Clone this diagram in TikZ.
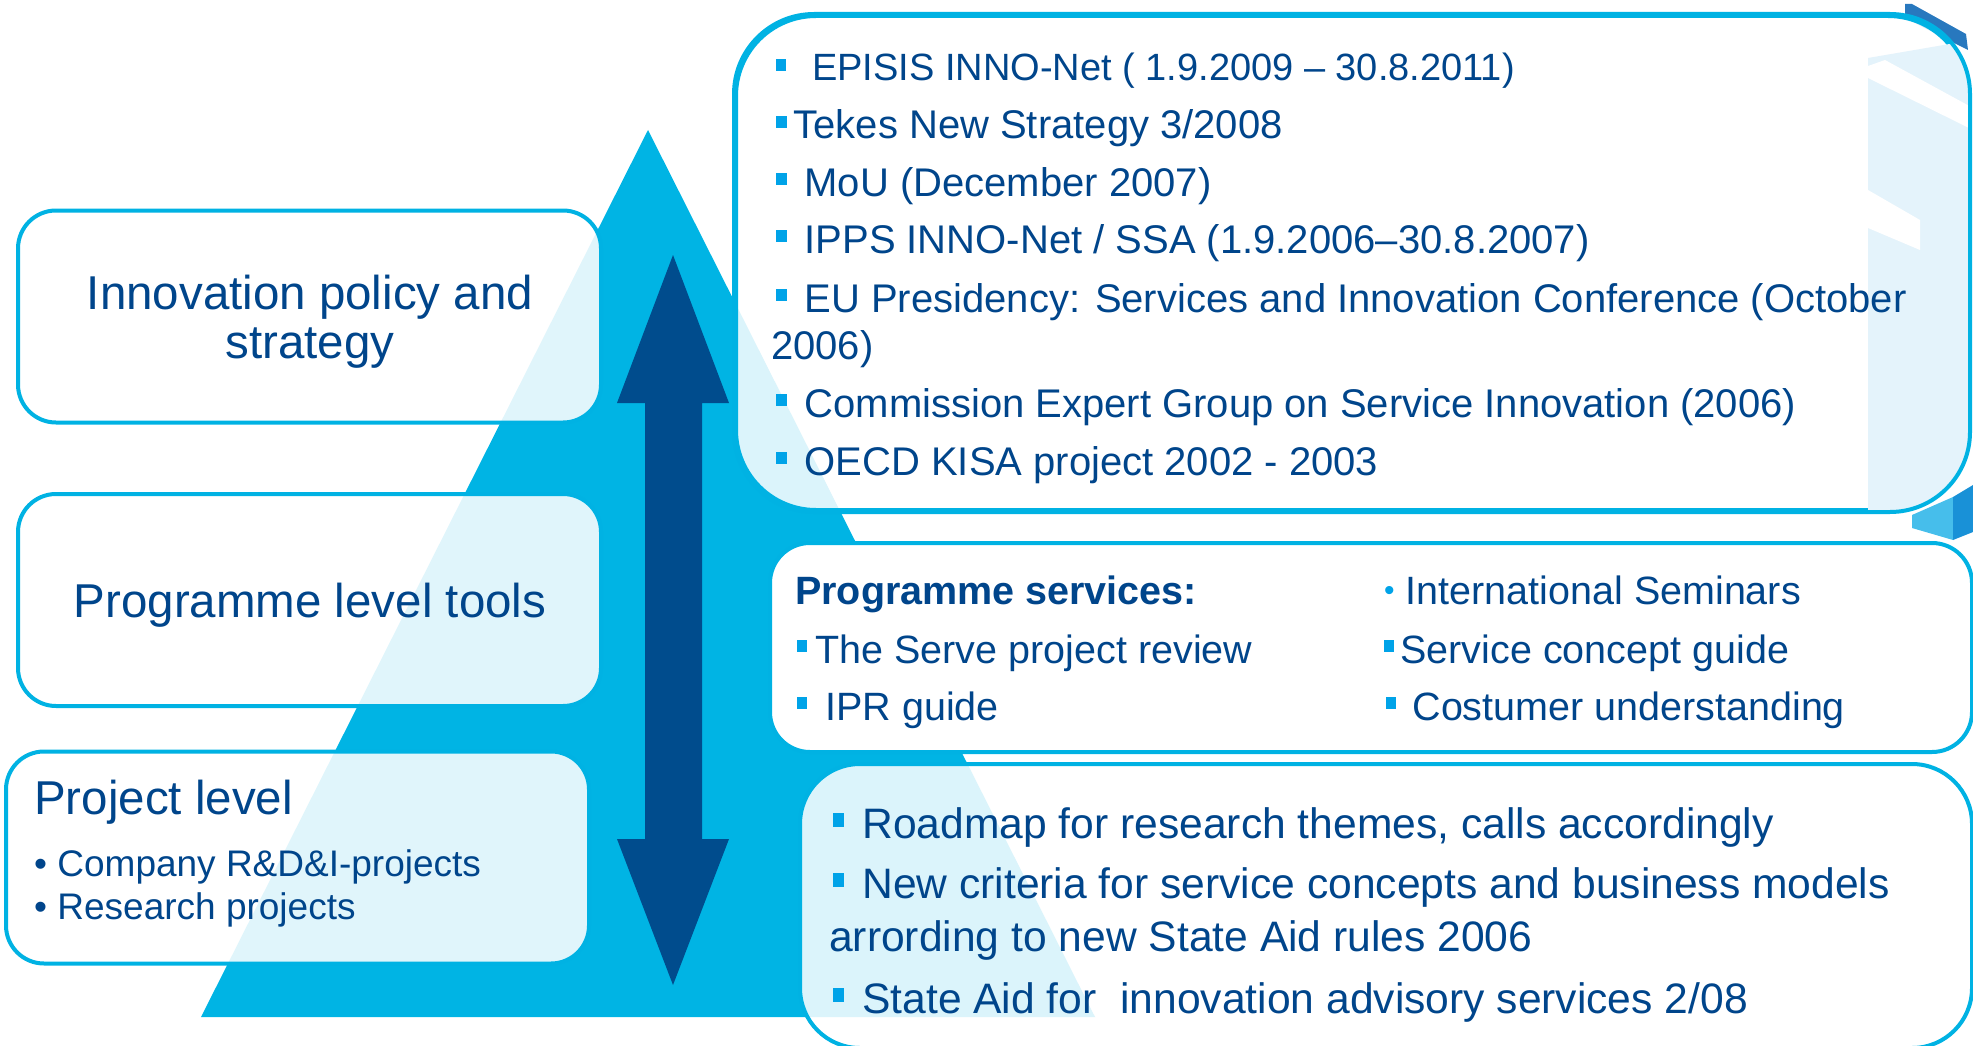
\documentclass[tikz,border=0pt]{standalone}
\usepackage{fontspec}
\setmainfont{Liberation Sans}
\definecolor{tri}{RGB}{0,180,228}
\definecolor{bord}{RGB}{0,178,227}
\definecolor{arr}{RGB}{0,76,141}
\definecolor{txt}{RGB}{0,69,139}
\definecolor{bul}{RGB}{0,163,232}
\definecolor{pale}{RGB}{228,243,251}
\definecolor{cubeA}{RGB}{70,190,235}
\definecolor{cubeB}{RGB}{25,145,215}
\definecolor{darkdeco}{RGB}{40,120,190}
\newcommand{\sqbul}{\textcolor{bul}{\rule[0.27em]{0.26em}{0.31em}}}
\begin{document}
\begin{tikzpicture}[x=1pt,y=-1pt,
  boxbase/.style={draw=bord, line width=4pt, fill=white, inner sep=0pt, rectangle},
  lbox/.style={boxbase, rounded corners=38pt, fill opacity=0.88, minimum width=583pt, minimum height=212pt},
  bigtxt/.style={text=txt, inner sep=0pt, font=\fontsize{47.5}{57}\selectfont},
  toptxt/.style={text=txt, inner sep=0pt, anchor=base west, font=\fontsize{40}{48}\selectfont},
  midtxt/.style={text=txt, inner sep=0pt, anchor=base west, font=\fontsize{39.5}{47}\selectfont},
  bottxt/.style={text=txt, inner sep=0pt, anchor=base west, font=\fontsize{42.6}{50}\selectfont},
  smalltxt/.style={text=txt, inner sep=0pt, anchor=base west, font=\fontsize{37}{44}\selectfont}
]
\useasboundingbox (0,0) rectangle (1973,1046);
% triangle
\coordinate (apex) at (648,130);
\coordinate (bl) at (201,1017);
\coordinate (br) at (1095,1017);
\fill[tri] (apex) -- (br) -- (bl) -- cycle;
% double arrow
\fill[arr] (673,255) -- (729,403) -- (702,403) -- (702,839) -- (729,839) -- (673,985)
  -- (617,839) -- (645,839) -- (645,403) -- (617,403) -- cycle;
% cube decoration (right)
\fill[cubeA] (1912,515) -- (1953,497) -- (1953,540) -- (1912,528) -- cycle;
\fill[cubeB] (1953,497) -- (1973,485) -- (1973,532) -- (1953,540) -- cycle;
\fill[darkdeco] (1905,4) -- (1912,4) -- (1966,34) -- (1968,50) -- (1905,18) -- cycle;
% left boxes
\node[lbox] (b1) at (309.5,316.5) {};
\node[lbox] (b2) at (309.5,600) {};
\node[lbox] (b3) at (297.5,857.5) {};
\node[bigtxt, anchor=base] (b1a) at (310,309) {Innovation policy and};
\node[bigtxt, anchor=base] (b1b) at (310,358) {strategy};
\node[bigtxt, anchor=base] (b2a) at (310,617) {Programme level tools};
\node[bigtxt, anchor=base west] (b3a) at (34,814) {Project level};
\node[smalltxt] (b3b) at (34,876) {• Company R\&D\&I-projects};
\node[smalltxt] (b3c) at (34,919) {• Research projects};
% right boxes
\node[boxbase, rounded corners=80pt, fill opacity=0.86, minimum width=1232pt, minimum height=494pt] (r1) at (1352,263) {};
% pale texture inside top box
\begin{scope}
  \clip[rounded corners=80pt] (r1.north west) rectangle (r1.south east);
  \fill[pale] (1868,58) -- (1973,40) -- (1973,512) -- (1868,512) -- cycle;
  \fill[white] (1868,66) -- (1885,60) -- (1973,108) -- (1973,130) -- (1868,78) -- cycle;
  \fill[white] (1868,190) -- (1920,220) -- (1920,250) -- (1868,228) -- cycle;
\end{scope}
\draw[bord, line width=4pt, rounded corners=80pt] (r1.north west) rectangle (r1.south east);
\node[boxbase, rounded corners=40pt, minimum width=1202pt, minimum height=209pt] (r2) at (1371,647.5) {};
\node[boxbase, rounded corners=60pt, fill opacity=0.86, minimum width=1172pt, minimum height=284pt] (r3) at (1386,906) {};
% top right texts
\node[toptxt, font=\fontsize{38}{46}\selectfont] (r1a) at (776,81) {\sqbul\hspace{26pt}EPISIS INNO-Net ( 1.9.2009 – 30.8.2011)};
\node[toptxt] (r1b) at (776,139) {\sqbul\hspace{7pt}Tekes New Strategy 3/2008};
\node[toptxt] (r1c) at (776,196) {\sqbul\hspace{18pt}MoU (December 2007)};
\node[toptxt] (r1d) at (776,253) {\sqbul\hspace{18pt}IPPS INNO-Net / SSA (1.9.2006–30.8.2007)};
\node[toptxt] (r1e) at (776,312) {\sqbul\hspace{18pt}EU Presidency: Services and Innovation Conference (October};
\node[toptxt] (r1f) at (771,359) {2006)};
\node[toptxt] (r1g) at (776,417) {\sqbul\hspace{18pt}Commission Expert Group on Service Innovation (2006)};
\node[toptxt] (r1h) at (776,475) {\sqbul\hspace{18pt}OECD KISA project 2002 - 2003};
% middle right texts
\node[midtxt, font=\fontsize{39.5}{47}\selectfont\bfseries] (r2a) at (795,604) {Programme services:};
\node[midtxt] (r2b) at (797,663) {\sqbul\hspace{8pt}The Serve project review};
\node[midtxt] (r2c) at (797,720) {\sqbul\hspace{18pt}IPR guide};
\node[midtxt] (r2d) at (1384,604) {{\color{bul}\fontsize{30}{30}\selectfont\raisebox{0.12em}{•}}\hspace{11pt}International Seminars};
\node[midtxt] (r2e) at (1384,663) {\sqbul\hspace{6pt}Service concept guide};
\node[midtxt] (r2f) at (1386,720) {\sqbul\hspace{16pt}Costumer understanding};
% bottom right texts
\node[bottxt] (r3a) at (833,838) {\sqbul\hspace{18pt}Roadmap for research themes, calls accordingly};
\node[bottxt] (r3b) at (833,898) {\sqbul\hspace{18pt}New criteria for service concepts and business models};
\node[bottxt] (r3c) at (829,951) {arrording to new State Aid rules 2006};
\node[bottxt] (r3d) at (833,1013) {\sqbul\hspace{18pt}State Aid for\ \ innovation advisory services 2/08};
\end{tikzpicture}
\end{document}
